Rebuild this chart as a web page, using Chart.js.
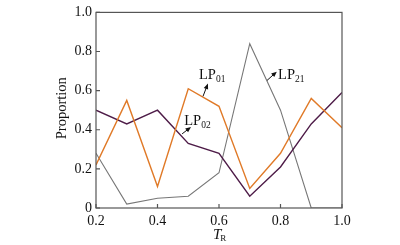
<html>

<head>
  <title>Proportion vs TR</title>
  <script src="https://cdn.jsdelivr.net/npm/chart.js"></script>
  <style>
    body { margin: 0; background: #fff; }
  </style>
</head>

<body>
  <canvas id="propChart" width="400" height="245"></canvas>
  <script>
    // values
    const tr = [0.2, 0.3, 0.4, 0.5, 0.6, 0.7, 0.8, 0.9, 1.0];
    const lp01 = [0.22, 0.55, 0.11, 0.61, 0.52, 0.10, 0.28, 0.56, 0.41];
    const lp02 = [0.50, 0.43, 0.50, 0.33, 0.28, 0.06, 0.21, 0.43, 0.59];
    const lp21 = [0.28, 0.02, 0.05, 0.06, 0.18, 0.84, 0.50, 0.0, 0.0];
    const xTicks = [0.2, 0.4, 0.6, 0.8, 1.0];
    const yTicks = [0, 0.2, 0.4, 0.6, 0.8, 1.0];

    // label name, subscript, text pos, arrow tail, arrow head (data units)
    const notes = [
      { name: 'LP', sub: '01', at: [0.535, 0.657], from: [0.548, 0.571], to: [0.564, 0.636] },
      { name: 'LP', sub: '02', at: [0.487, 0.425], from: [0.48, 0.379], to: [0.509, 0.414] },
      { name: 'LP', sub: '21', at: [0.792, 0.662], from: [0.756, 0.652], to: [0.788, 0.697] }
    ];

    const serif = '"Liberation Serif", "DejaVu Serif", serif';
    const axisColor = '#555';

    function pts(ys) {
      return ys.map((y, i) => ({ x: tr[i], y: y }));
    }

    const frame = {
      id: 'frame',
      afterDraw(chart) {
        const ctx = chart.ctx;
        const a = chart.chartArea;
        const xs = chart.scales.x, ys = chart.scales.y;
        ctx.save();
        ctx.strokeStyle = axisColor;
        ctx.lineWidth = 1.2;
        ctx.strokeRect(a.left, a.top, a.right - a.left, a.bottom - a.top);
        // inward ticks
        ctx.beginPath();
        xs.ticks.forEach((t, i) => {
          const px = xs.getPixelForTick(i);
          ctx.moveTo(px, a.bottom);
          ctx.lineTo(px, a.bottom - 4);
        });
        ys.ticks.forEach((t, i) => {
          const py = ys.getPixelForTick(i);
          ctx.moveTo(a.left, py);
          ctx.lineTo(a.left + 4, py);
        });
        ctx.stroke();

        // y title
        ctx.fillStyle = '#111';
        ctx.font = '14.5px ' + serif;
        ctx.textAlign = 'center';
        ctx.textBaseline = 'middle';
        ctx.save();
        ctx.translate(62, ys.getPixelForValue(0.51));
        ctx.rotate(-Math.PI / 2);
        ctx.fillText('Proportion', 0, 0);
        ctx.restore();

        // x title T_R
        ctx.textAlign = 'left';
        ctx.textBaseline = 'alphabetic';
        const tx = xs.getPixelForValue(0.6) - 6;
        ctx.font = 'italic 15px ' + serif;
        ctx.fillText('T', tx, 239);
        const tw = ctx.measureText('T').width;
        ctx.font = '9px ' + serif;
        ctx.fillText('R', tx + tw - 1, 241);

        // annotations
        notes.forEach(n => {
          const x = xs.getPixelForValue(n.at[0]);
          const y = ys.getPixelForValue(n.at[1]);
          ctx.fillStyle = '#111';
          ctx.font = '14.5px ' + serif;
          ctx.fillText(n.name, x, y);
          const w = ctx.measureText(n.name).width;
          ctx.font = '9.5px ' + serif;
          ctx.fillText(n.sub, x + w, y + 3);

          const x0 = xs.getPixelForValue(n.from[0]), y0 = ys.getPixelForValue(n.from[1]);
          const x1 = xs.getPixelForValue(n.to[0]), y1 = ys.getPixelForValue(n.to[1]);
          const ang = Math.atan2(y1 - y0, x1 - x0);
          ctx.strokeStyle = '#111';
          ctx.lineWidth = 1;
          ctx.beginPath();
          ctx.moveTo(x0, y0);
          ctx.lineTo(x1 - 3 * Math.cos(ang), y1 - 3 * Math.sin(ang));
          ctx.stroke();
          ctx.beginPath();
          ctx.moveTo(x1, y1);
          ctx.lineTo(x1 - 6 * Math.cos(ang - 0.4), y1 - 6 * Math.sin(ang - 0.4));
          ctx.lineTo(x1 - 6 * Math.cos(ang + 0.4), y1 - 6 * Math.sin(ang + 0.4));
          ctx.closePath();
          ctx.fill();
        });
        ctx.restore();
      }
    };

    new Chart(document.getElementById('propChart'), {
      type: 'line',
      data: {
        datasets: [
          { label: 'LP01', data: pts(lp01), borderColor: '#e07a28', borderWidth: 1.4 },
          { label: 'LP02', data: pts(lp02), borderColor: '#4e1c48', borderWidth: 1.4 },
          { label: 'LP21', data: pts(lp21), borderColor: '#777777', borderWidth: 1.1 }
        ]
      },
      options: {
        responsive: false,
        animation: false,
        elements: { point: { radius: 0 }, line: { tension: 0 } },
        layout: { padding: { top: 10, right: 58, left: 0, bottom: 0 } },
        plugins: { legend: { display: false }, tooltip: { enabled: false } },
        scales: {
          x: {
            type: 'linear',
            min: 0.2,
            max: 1.0,
            afterBuildTicks(s) { s.ticks = xTicks.map(v => ({ value: v })); },
            afterFit(s) { s.height = 37; },
            grid: { display: false, drawTicks: false },
            border: { display: false },
            ticks: {
              padding: 5,
              color: '#111',
              font: { family: serif, size: 14 },
              maxRotation: 0,
              callback: v => v.toFixed(1)
            }
          },
          y: {
            min: 0,
            max: 1.0,
            afterBuildTicks(s) { s.ticks = yTicks.map(v => ({ value: v })); },
            afterFit(s) { s.width = 96; },
            grid: { display: false, drawTicks: false },
            border: { display: false },
            ticks: {
              padding: 4,
              color: '#111',
              font: { family: serif, size: 14 },
              callback: v => v === 0 ? '0' : v.toFixed(1)
            }
          }
        }
      },
      plugins: [frame]
    });
  </script>
</body>

</html>
